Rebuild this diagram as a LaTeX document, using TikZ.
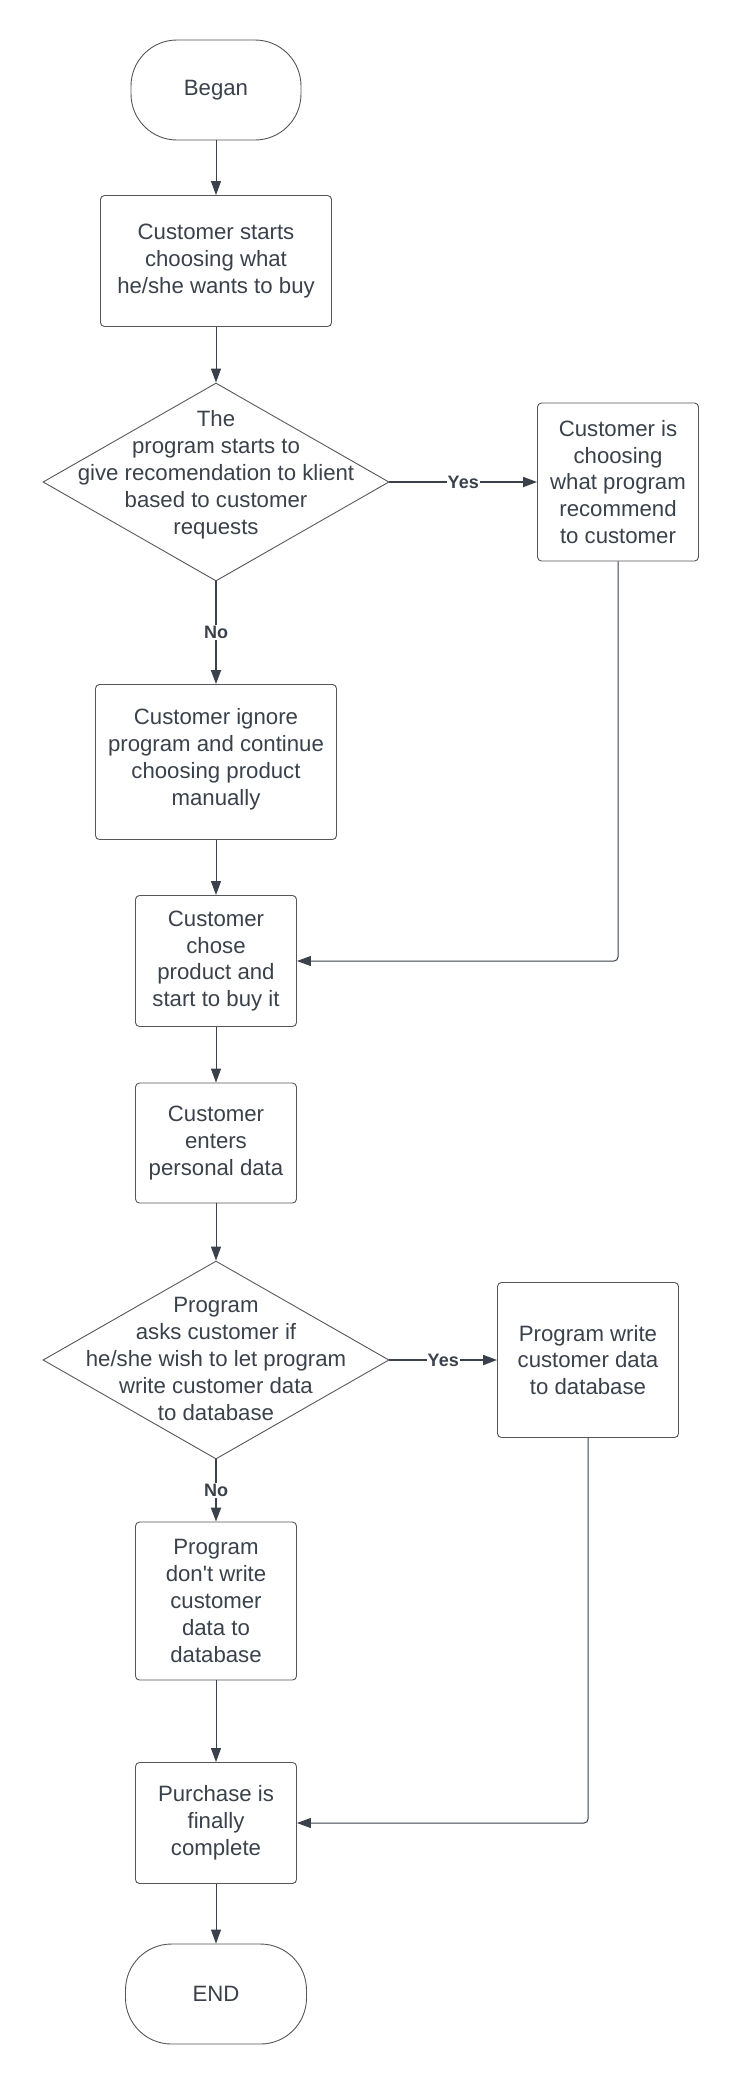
\documentclass[tikz,border=0pt]{standalone}
\usepackage{fontspec}
\setmainfont{Liberation Sans}
\usetikzlibrary{shapes,arrows.meta,positioning}

\definecolor{ink}{RGB}{58,65,74}
\definecolor{edge}{RGB}{85,85,90}

\begin{document}
\begin{tikzpicture}[x=1pt,y=-1pt]
            \tikzstyle{block}=[rectangle,draw=edge,line width=0.9pt,rounded corners=4pt,text=ink,align=center,font=\fontsize{22.2}{26.9}\selectfont,inner sep=0pt]
            \tikzstyle{term}=[block,rounded corners=46pt]
            \tikzstyle{decision}=[diamond,draw=edge,line width=0.9pt,inner sep=0pt,minimum width=346pt,minimum height=198pt]
            \tikzstyle{words}=[text=ink,align=center,font=\fontsize{22.2}{26.9}\selectfont]
            \tikzstyle{answer}=[fill=white,text=ink,inner sep=1pt,font=\fontsize{18}{20}\selectfont\bfseries]

            \tikzstyle{flow}=[draw=ink,line width=1pt,-{Triangle[length=14pt,width=10pt]}]
            \tikzstyle{choice}=[flow,line width=1.8pt]

            \useasboundingbox (0,0) rectangle (735,2080);

            % main column
            \node[term,minimum width=170pt,minimum height=100pt] (began) at (216,90) {Began};
            \node[block,minimum width=231pt,minimum height=131pt] (pick) at (216,261) {Customer starts\\choosing what\\he/she wants to buy};
            \node[decision] (ask1) at (216,482) {};
            \node[words] (ask1txt) at (216,475) {The\\program starts to\\give recomendation to klient\\based to customer\\requests};
            \node[block,minimum width=241pt,minimum height=155pt,text depth=10pt] (manual) at (216,762) {Customer ignore\\program and continue\\choosing product\\manually};
            \node[block,minimum width=161pt,minimum height=131pt] (chose) at (216,961) {Customer\\chose\\product and\\start to buy it};
            \node[block,minimum width=161pt,minimum height=120pt] (enters) at (216,1143) {Customer\\enters\\personal data};
            \node[decision] (ask2) at (216,1360) {};
            \node[words] (ask2txt) at (216,1359) {Program\\asks customer if\\he/she wish to let program\\write customer data\\to database};
            \node[block,minimum width=161pt,minimum height=158pt] (nowrite) at (216,1601) {Program\\don\textquotesingle t write\\customer\\data to\\database};
            \node[block,minimum width=161pt,minimum height=121pt] (done) at (216,1823) {Purchase is\\finally\\complete};
            \node[term,minimum width=181pt,minimum height=100pt] (finish) at (216,1994) {END};

            % side branches
            \node[block,minimum width=161pt,minimum height=158pt] (advice) at (618,482) {Customer is\\choosing\\what program\\recommend\\to customer};
            \node[block,minimum width=181pt,minimum height=155pt] (dbwrite) at (588,1360) {Program write\\customer data\\to database};

            \path[flow] (began) -- (pick);
            \path[flow] (pick) -- (ask1.north);
            \path[choice] (ask1.east) -- node[answer] {Yes} (advice);
            \path[choice] (ask1.south) -- node[answer] {No} (manual);
            \path[flow] (manual) -- (chose);
            \path[flow,rounded corners=4pt] (advice.south) |- (chose.east);
            \path[flow] (chose) -- (enters);
            \path[flow] (enters) -- (ask2.north);
            \path[choice] (ask2.east) -- node[answer] {Yes} (dbwrite);
            \path[choice] (ask2.south) -- node[answer] {No} (nowrite);
            \path[flow] (nowrite) -- (done);
            \path[flow,rounded corners=4pt] (dbwrite.south) |- (done.east);
            \path[flow] (done) -- (finish);
        \end{tikzpicture}
\end{document}
